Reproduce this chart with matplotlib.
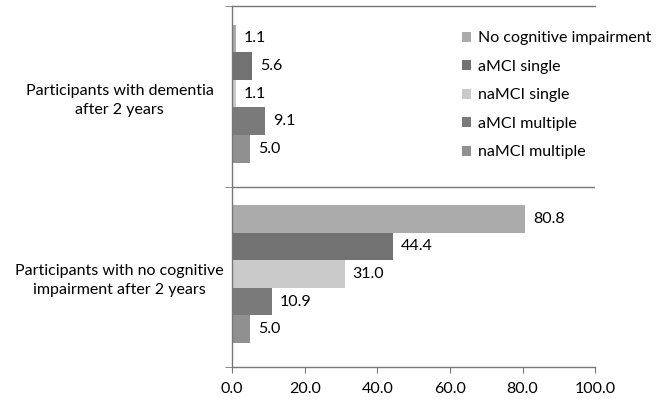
import matplotlib
matplotlib.use("Agg")
import matplotlib.pyplot as plt
import numpy as np

plt.rcParams['font.family'] = ['Lato', 'DejaVu Sans']

categories = ["Participants with no cognitive\nimpairment after 2 years",
              "Participants with dementia\nafter 2 years"]
series = ["No cognitive impairment", "aMCI single", "naMCI single",
          "aMCI multiple", "naMCI multiple"]
values = {
    "No cognitive impairment": [80.8, 1.1],
    "aMCI single": [44.4, 5.6],
    "naMCI single": [31.0, 1.1],
    "aMCI multiple": [10.9, 9.1],
    "naMCI multiple": [5.0, 5.0],
}
colors = ["#ababab", "#727272", "#cacaca", "#7a7a7a", "#909090"]
xticks = [0, 20, 40, 60, 80, 100]

fig = plt.figure(figsize=(6.65, 4.0), dpi=100)
ax = fig.add_axes([0.349, 0.0825, 0.546, 0.9025])

h = 0.153
y = np.arange(len(categories))
handles = []
for i, (s, c) in enumerate(zip(series, colors)):
    off = (2 - i) * h + 0.015
    b = ax.barh(y + off, values[s], height=h, color=c, label=s)
    handles.append(b)
    for yy, v in zip(y + off, values[s]):
        ax.text(v + 2.2, yy, f"{v:.1f}", va="center", ha="left", fontsize=11.5)

ax.set_xlim(0, 100)
ax.set_ylim(-0.5, 1.5)
ax.set_xticks(xticks)
ax.set_xticklabels([f"{t:.1f}" for t in xticks], fontsize=11.5)
ax.set_yticks(y)
ax.set_yticklabels(categories, fontsize=11.5, ha="center", linespacing=1.45)
ax.tick_params(axis="y", length=0, pad=81)
ax.tick_params(axis="x", length=4, direction="out", color="#777777", pad=7)

for sp in ["right"]:
    ax.spines[sp].set_visible(False)
for sp in ["top", "left", "bottom"]:
    ax.spines[sp].set_color("#777777")
    ax.spines[sp].set_linewidth(1.0)
ax.axhline(0.5, color="#777777", lw=1.0)
# category boundary ticks on left
ax.set_yticks([-0.5, 0.5, 1.5], minor=True)
ax.tick_params(axis="y", which="minor", length=5, color="#777777")

leg = ax.legend(handles=handles, labels=series, loc="upper left",
                bbox_to_anchor=(0.632, 0.93), frameon=False, fontsize=11.5,
                handlelength=0.6, handleheight=0.6, handletextpad=0.45,
                labelspacing=0.91, borderaxespad=0, borderpad=0)

fig.savefig("out.png", dpi=100)
